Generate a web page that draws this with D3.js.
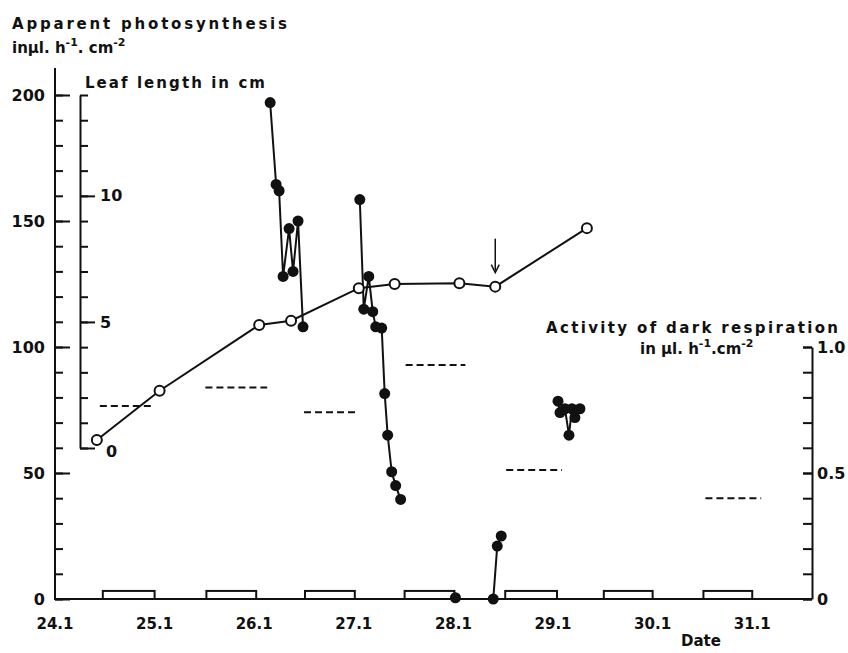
<!DOCTYPE html>
<html>
<head>
<meta charset="utf-8">
<script src="https://cdn.jsdelivr.net/npm/d3@7"></script>
<style>
  body { margin: 0; background: white; }
  svg { display: block; font-family: "DejaVu Sans", sans-serif; }
  .tick text { font-size: 16px; font-weight: bold; fill: #111; font-family: "DejaVu Sans", sans-serif; }
  .tick line, .domain { stroke: #111; stroke-width: 2; }
  .title { font-size: 15px; font-weight: bold; fill: #111; }
</style>
</head>
<body>
<svg id="chart" width="848" height="653"></svg>
<script>
// leaf length (open circles, cm)
const leafDays = [24.42, 25.05, 26.05, 26.37, 27.05, 27.41, 28.06, 28.42, 29.34];
const leafLength = [0.32, 2.27, 4.88, 5.05, 6.34, 6.5, 6.53, 6.4, 8.72];

// apparent photosynthesis (filled dots), one run per measuring session
const photoDays = [
  [26.16, 26.22, 26.25, 26.29, 26.35, 26.39, 26.44, 26.49],
  [27.06, 27.10, 27.15, 27.19, 27.22, 27.28, 27.31, 27.34, 27.38, 27.42, 27.47],
  [28.02],
  [28.40, 28.44, 28.48],
  [29.05, 29.07, 29.12, 29.16, 29.19, 29.22, 29.27]
];
const photoValues = [
  [197, 164.5, 162, 128, 147, 130, 150, 108],
  [158.5, 115, 128, 114, 108, 107.5, 81.5, 65, 50.5, 45, 39.5],
  [0.5],
  [0, 21, 25],
  [78.5, 74, 75.5, 65, 75.5, 72, 75.5]
];

// dark respiration (dashed segments, right axis)
const respStart = [24.45, 25.51, 26.50, 27.52, 28.53, 30.53];
const respEnd = [24.97, 26.13, 27.05, 28.12, 29.09, 31.09];
const respValue = [0.766, 0.839, 0.741, 0.929, 0.512, 0.40];

// dark periods (white bars on the time axis)
const nightStart = [24.48, 25.52, 26.51, 27.51, 28.52, 29.51, 30.51];
const nightEnd = [25.0, 26.02, 27.01, 28.01, 29.04, 30.0, 31.0];

const dateTicks = [24, 25, 26, 27, 28, 29, 30, 31];
const photoTicks = [0, 50, 100, 150, 200];
const leafTicks = [0, 5, 10];
const respTicks = [0, 0.5, 1.0];

const svg = d3.select("#chart");

const x = d3.scaleLinear().domain([24, 31.6]).range([55, 812]);
const yPhoto = d3.scaleLinear().domain([0, 200]).range([599, 95]);
const yLeaf = d3.scaleLinear().domain([0, 14]).range([448, 95]);
const yResp = d3.scaleLinear().domain([0, 1]).range([599, 347]);

// photosynthesis axis (left)
svg.append("line")
  .attr("x1", 55).attr("x2", 55).attr("y1", 68).attr("y2", 600)
  .attr("stroke", "#111").attr("stroke-width", 2);

svg.append("g").attr("transform", translate(55, 0))
  .call(d3.axisLeft(yPhoto).tickValues(d3.range(0, 201, 10))
    .tickSizeInner(-8).tickSizeOuter(0).tickFormat(""))
  .call(g => g.select(".domain").remove());

svg.append("g").attr("transform", translate(55, 0))
  .call(d3.axisLeft(yPhoto).tickValues(photoTicks)
    .tickSizeInner(-15).tickSizeOuter(0).tickPadding(10))
  .call(g => g.select(".domain").remove());

// leaf length axis
svg.append("g").attr("transform", translate(80, 0))
  .call(d3.axisRight(yLeaf).tickValues(d3.range(0, 15, 1))
    .tickSizeInner(8).tickSizeOuter(0).tickFormat(""));

svg.append("g").attr("transform", translate(80, 0))
  .call(d3.axisRight(yLeaf).tickValues(leafTicks)
    .tickSizeInner(15).tickSizeOuter(0).tickPadding(5))
  .call(g => g.select(".domain").remove())
  .call(g => g.selectAll(".tick text").filter(d => d === 0).attr("x", 26).attr("dy", "0.5em"));

// respiration axis (right)
svg.append("g").attr("transform", translate(812, 0))
  .call(d3.axisRight(yResp).tickValues(d3.range(0, 11).map(d => d / 10))
    .tickSizeInner(-9).tickSizeOuter(0).tickFormat(""));

svg.append("g").attr("transform", translate(812, 0))
  .call(d3.axisRight(yResp).tickValues(respTicks)
    .tickSizeInner(-9).tickSizeOuter(0).tickPadding(5)
    .tickFormat(d => d === 0 ? "0" : d3.format(".1f")(d)))
  .call(g => g.select(".domain").remove());

// time axis
svg.append("line")
  .attr("x1", x(24)).attr("x2", x(31.6)).attr("y1", 599).attr("y2", 599)
  .attr("stroke", "#111").attr("stroke-width", 2);

svg.append("g").selectAll("text")
  .data(dateTicks)
  .join("text")
  .attr("x", d => x(d))
  .attr("y", 629)
  .attr("text-anchor", "middle")
  .style("font-size", "15px")
  .style("font-weight", "bold")
  .attr("fill", "#111")
  .text(d => d + ".1");

// dark periods
svg.append("g").selectAll("rect")
  .data(nightStart)
  .join("rect")
  .attr("x", d => x(d))
  .attr("width", (d, i) => x(nightEnd[i]) - x(d))
  .attr("y", yPhoto(3.2))
  .attr("height", yPhoto(0) - yPhoto(3.2))
  .attr("fill", "white")
  .attr("stroke", "#111")
  .attr("stroke-width", 2);

// respiration dashes
svg.append("g").selectAll("line")
  .data(respValue)
  .join("line")
  .attr("x1", (d, i) => x(respStart[i]))
  .attr("x2", (d, i) => x(respEnd[i]))
  .attr("y1", d => yResp(d))
  .attr("y2", d => yResp(d))
  .attr("stroke", "#111")
  .attr("stroke-width", 2)
  .attr("stroke-dasharray", "7,4");

// leaf length line + open circles
const leafPts = leafDays.map((d, i) => [x(d), yLeaf(leafLength[i])]);
svg.append("path")
  .attr("d", d3.line()(leafPts))
  .attr("fill", "none")
  .attr("stroke", "#111")
  .attr("stroke-width", 2);

// photosynthesis runs
const runs = photoDays.map((days, r) => days.map((d, i) => [x(d), yPhoto(photoValues[r][i])]));
svg.append("g").selectAll("path")
  .data(runs)
  .join("path")
  .attr("d", d => d3.line()(d))
  .attr("fill", "none")
  .attr("stroke", "#111")
  .attr("stroke-width", 2);

svg.append("g").selectAll("circle")
  .data(runs.flat())
  .join("circle")
  .attr("cx", d => d[0])
  .attr("cy", d => d[1])
  .attr("r", 5.5)
  .attr("fill", "#111");

svg.append("g").selectAll("circle")
  .data(leafPts)
  .join("circle")
  .attr("cx", d => d[0])
  .attr("cy", d => d[1])
  .attr("r", 5)
  .attr("fill", "white")
  .attr("stroke", "#111")
  .attr("stroke-width", 2);

// arrow above leaf point on 28.1
const ax = leafPts[7][0], ay = leafPts[7][1];
svg.append("line")
  .attr("x1", ax).attr("x2", ax).attr("y1", ay - 48).attr("y2", ay - 16)
  .attr("stroke", "#111").attr("stroke-width", 1.5);
svg.append("path")
  .attr("d", `M${ax - 4},${ay - 22} L${ax},${ay - 14} L${ax + 4},${ay - 22}`)
  .attr("fill", "none").attr("stroke", "#111").attr("stroke-width", 1.5);

// titles
svg.append("text").attr("class", "title").attr("x", 12).attr("y", 29)
  .attr("textLength", 275).attr("lengthAdjust", "spacing")
  .text("Apparent photosynthesis");

const t2 = svg.append("text").attr("class", "title").attr("x", 12).attr("y", 53);
t2.append("tspan").text("inμl. h");
t2.append("tspan").attr("dy", -7).style("font-size", "11px").text("-1");
t2.append("tspan").attr("dy", 7).text(". cm");
t2.append("tspan").attr("dy", -7).style("font-size", "11px").text("-2");

svg.append("text").attr("class", "title").attr("x", 85).attr("y", 88)
  .attr("textLength", 180).attr("lengthAdjust", "spacing")
  .text("Leaf length in cm");

svg.append("text").attr("class", "title").attr("x", 546).attr("y", 333)
  .attr("textLength", 292).attr("lengthAdjust", "spacing")
  .text("Activity of dark respiration");

const t3 = svg.append("text").attr("class", "title").attr("x", 640).attr("y", 354);
t3.append("tspan").text("in  μl. h");
t3.append("tspan").attr("dy", -7).style("font-size", "11px").text("-1");
t3.append("tspan").attr("dy", 7).text(".cm");
t3.append("tspan").attr("dy", -7).style("font-size", "11px").text("-2");

svg.append("text").attr("class", "title").attr("x", 681).attr("y", 646)
  .text("Date");

function translate(x, y) {
  return "translate(" + String(x) + "," + String(y) + ")";
}
</script>
</body>
</html>
